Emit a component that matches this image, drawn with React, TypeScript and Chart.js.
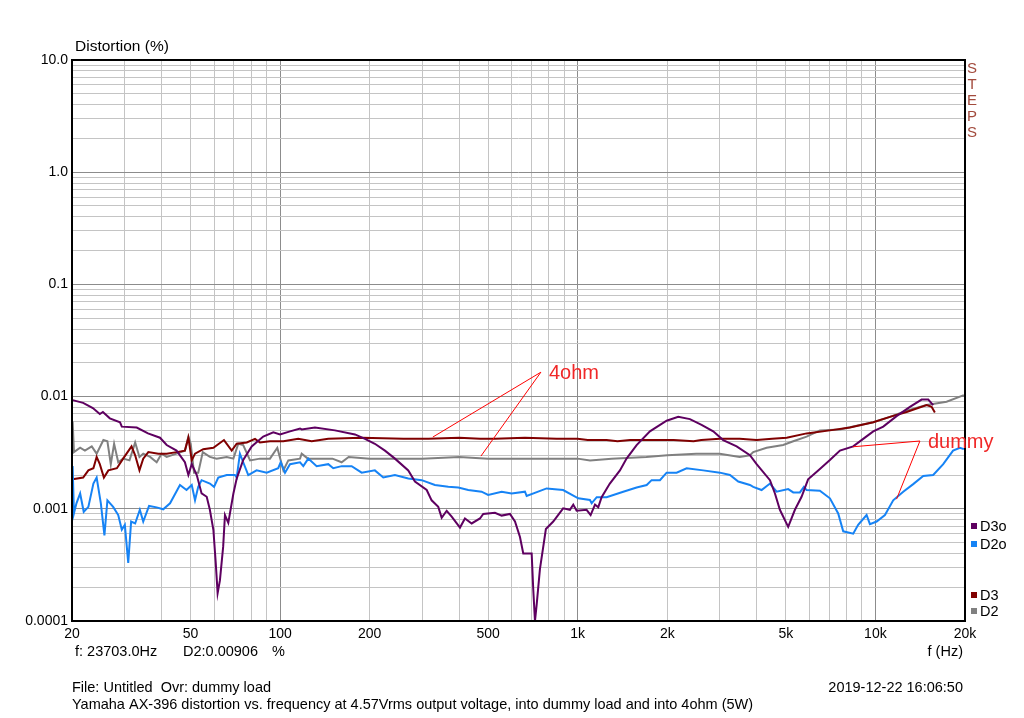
import React, { useEffect, useRef } from 'react';
import { Chart, registerables } from 'chart.js';

Chart.register(...registerables);

// ---------- data (frequency Hz, distortion %) ----------
const D3O_POINTS: [number, number][] = [
  [20.1, 0.0093], [21.8, 0.0088], [23.5, 0.0079], [24.8, 0.0070], [25.4, 0.0073], [26.8, 0.0064],
  [29.0, 0.0059], [29.4, 0.0054], [33.0, 0.0053], [36.0, 0.0047], [39.5, 0.0043], [41.6, 0.0037],
  [44.9, 0.0033], [47.9, 0.0026], [49.2, 0.0020], [50.5, 0.0025], [52.5, 0.0020], [54.5, 0.00137],
  [56.7, 0.00128], [58.1, 0.00098], [59.7, 0.00065], [60.8, 0.00033], [61.7, 0.000177], [62.8, 0.00023],
  [64.4, 0.00046], [65.3, 0.00088], [67.0, 0.00075], [69.7, 0.00137], [71.5, 0.00186], [75.2, 0.00272],
  [80.3, 0.0036], [87.8, 0.0044], [94.9, 0.0048], [100, 0.0046], [108, 0.0049], [116.7, 0.0052],
  [118.2, 0.0051], [131, 0.0053], [152.9, 0.0050], [178.5, 0.0046], [192.9, 0.0042], [208.2, 0.0038],
  [225.1, 0.0033], [243.2, 0.0028], [269.6, 0.0022], [283.9, 0.00175], [310.9, 0.00147], [323, 0.00119],
  [340, 0.00104], [349.1, 0.00083], [362.9, 0.00096], [377.2, 0.00085], [402.2, 0.00068], [417.9, 0.00082],
  [440.3, 0.00074], [469.4, 0.00082], [481.5, 0.0009], [527.1, 0.00092], [555.2, 0.00087], [592, 0.0009],
  [615.5, 0.00077], [639.7, 0.00056], [656.2, 0.0004], [700.3, 0.0004], [709, 0.00019], [718.4, 0.0001],
  [727.9, 0.00014], [746.5, 0.00029], [781.7, 0.00066], [827.4, 0.00077], [893.3, 0.00101], [941.4, 0.00098],
  [966, 0.00109], [991.6, 0.00096], [1071, 0.00098], [1105, 0.00088], [1143, 0.00109], [1172, 0.00103],
  [1203, 0.00127], [1282, 0.00168], [1386, 0.0022], [1459, 0.0028], [1577, 0.0037], [1748, 0.0049],
  [1989, 0.0061], [2176, 0.0066], [2382, 0.0063], [2606, 0.0056], [2852, 0.0049], [3081, 0.0041],
  [3419, 0.0036], [3789, 0.0030], [3990, 0.0025], [4424, 0.0018], [4598, 0.00137], [4777, 0.00098],
  [5094, 0.00069], [5366, 0.00098], [5649, 0.00128], [5942, 0.00183], [6425, 0.0022], [7034, 0.00272],
  [7602, 0.0033], [8423, 0.0036], [9100, 0.0042], [9836, 0.0049], [10627, 0.0054], [11780, 0.0067],
  [13062, 0.0081], [14299, 0.0094], [15049, 0.0094], [15638, 0.0084],
];

const D2O_POINTS: [number, number][] = [
  [20.1, 0.0024], [20.3, 0.00091], [20.7, 0.00112], [21.3, 0.00137], [21.9, 0.00094], [22.7, 0.00104],
  [23.6, 0.00168], [24.2, 0.0019], [25.0, 0.00112], [25.7, 0.00058], [26.3, 0.00119], [27.5, 0.00104],
  [28.6, 0.00088], [29.4, 0.00065], [30.1, 0.00072], [30.9, 0.00033], [31.6, 0.00077], [32.6, 0.00074],
  [33.8, 0.00098], [34.7, 0.00077], [36.3, 0.00106], [38.5, 0.00103], [40.5, 0.00099], [42.7, 0.00112],
  [46.1, 0.00163], [48.5, 0.00147], [50.5, 0.00163], [51.8, 0.00119], [53.1, 0.00157], [54.5, 0.0018],
  [58.1, 0.00168], [60.0, 0.00157], [62.0, 0.0019], [66.2, 0.0020], [70.5, 0.0020], [71.5, 0.0019],
  [73.3, 0.0031], [75.2, 0.0026], [78.2, 0.0020], [83.4, 0.0022], [90.2, 0.0021], [98.6, 0.0023],
  [100.5, 0.0026], [103.9, 0.0021], [108, 0.0025], [116.7, 0.0026], [119.7, 0.0024], [124.4, 0.0028],
  [132.7, 0.0024], [145.2, 0.0025], [150.9, 0.0023], [161.1, 0.0024], [174, 0.0024], [188, 0.0021],
  [208.2, 0.0022], [222.2, 0.0019], [243.2, 0.0020], [269.6, 0.00186], [299.1, 0.0018], [331.3, 0.00163],
  [367.4, 0.00157], [396.9, 0.00155], [428.7, 0.00147], [475.3, 0.00142], [500.1, 0.00133], [555.2, 0.00142],
  [599.8, 0.00137], [664.9, 0.00142], [673.7, 0.0013], [786.2, 0.00152], [893.3, 0.00147], [1004, 0.00124],
  [1099, 0.0012], [1114, 0.00112], [1158, 0.00127], [1250, 0.00127], [1422, 0.00142], [1577, 0.00155],
  [1705, 0.00163], [1771, 0.0018], [1889, 0.0018], [1989, 0.0021], [2149, 0.0021], [2322, 0.0023],
  [2640, 0.0022], [3004, 0.0021], [3246, 0.0020], [3462, 0.00175], [3789, 0.00163], [3887, 0.00157],
  [4147, 0.00147], [4424, 0.00168], [4657, 0.00142], [5094, 0.0015], [5297, 0.0014], [5576, 0.0014],
  [5752, 0.00157], [5874, 0.00147], [6509, 0.00145], [7034, 0.00124], [7500, 0.00091], [7796, 0.00063],
  [8423, 0.0006], [8752, 0.00072], [9342, 0.00088], [9584, 0.00073], [10097, 0.00077], [10766, 0.00088],
  [11477, 0.00119], [12404, 0.00142], [13398, 0.00166], [14478, 0.00196], [15638, 0.0020], [16900, 0.0025],
  [18237, 0.0033], [19220, 0.0035], [19830, 0.0034],
];

const D3_POINTS: [number, number][] = [
  [20.1, 0.00183], [21.8, 0.0019], [22.7, 0.0022], [23.6, 0.0023], [24.2, 0.0029], [24.8, 0.0025],
  [25.6, 0.0019], [26.5, 0.0022], [28.3, 0.0023], [29.7, 0.0028], [31.7, 0.0036], [32.6, 0.0030],
  [33.7, 0.0022], [34.7, 0.0028], [36.1, 0.0032], [39.0, 0.0031], [41.6, 0.0031], [44.9, 0.0032],
  [47.9, 0.0033], [49.2, 0.0043], [50.5, 0.0027], [51.8, 0.0031], [55.2, 0.0034], [59.7, 0.0035],
  [64.8, 0.0041], [68.8, 0.0033], [71.5, 0.0038], [77.3, 0.0039], [82.4, 0.0042], [85.6, 0.0039],
  [92.5, 0.0040], [102.6, 0.0040], [115.1, 0.0042], [127.7, 0.0040], [145.2, 0.0042], [188, 0.0043],
  [260, 0.0042], [315, 0.0042], [400, 0.0043], [470, 0.0042], [527, 0.0042], [665, 0.0043],
  [850, 0.0042], [1000, 0.0042], [1080, 0.0041], [1250, 0.0041], [1360, 0.0040], [1500, 0.0041],
  [1750, 0.0041], [2100, 0.0041], [2450, 0.0040], [2600, 0.0041], [3000, 0.0042], [3500, 0.0042],
  [3990, 0.0041], [4500, 0.0042], [5033, 0.0043], [5874, 0.0047], [7034, 0.0050], [8210, 0.0053],
  [9836, 0.0059], [11190, 0.0066], [12731, 0.0073], [14859, 0.0084], [15445, 0.0081], [15843, 0.0072],
];

const D2_POINTS: [number, number][] = [
  [20.1, 0.0060], [20.3, 0.0032], [21.3, 0.0035], [22.1, 0.0033], [23.3, 0.0036], [24.2, 0.0031],
  [25.5, 0.0041], [26.3, 0.0040], [27.0, 0.0025], [27.7, 0.0038], [28.6, 0.0026], [29.7, 0.0028],
  [31.2, 0.0027], [32.6, 0.0039], [33.7, 0.0029], [34.7, 0.0031], [36.6, 0.0029], [38.5, 0.0026],
  [40.0, 0.0031], [41.6, 0.0029], [44.9, 0.0031], [47.9, 0.0033], [49.2, 0.0044], [50.1, 0.0038],
  [51.4, 0.0021], [53.1, 0.0021], [55.0, 0.0032], [58.1, 0.0029], [61.2, 0.0028], [66.2, 0.0029],
  [69.7, 0.0028], [72.4, 0.0038], [75.2, 0.0037], [79.3, 0.0027], [85.6, 0.0028], [92.5, 0.0028],
  [97.9, 0.0035], [102.6, 0.0022], [106.6, 0.0027], [116.7, 0.0028], [118.2, 0.0031], [124, 0.0028],
  [150, 0.0028], [161, 0.0026], [170, 0.0029], [200, 0.0028], [300, 0.0028], [400, 0.0029],
  [500, 0.0028], [700, 0.0028], [1000, 0.0028], [1100, 0.0027], [1300, 0.0028], [1700, 0.0029],
  [2000, 0.0030], [2500, 0.0031], [3000, 0.0031], [3500, 0.0029], [3789, 0.0030], [3887, 0.0032],
  [4311, 0.0035], [4900, 0.0037], [5297, 0.0040], [5874, 0.0044], [6509, 0.0050], [7602, 0.0051],
  [8651, 0.0055], [9836, 0.0059], [11190, 0.0066], [12731, 0.0075], [14859, 0.0084], [17340, 0.0090],
  [19830, 0.0103],
];

const SERIES_NAMES = ['D3o', 'D2o', 'D3', 'D2'];
const SERIES_COLORS = ['#5e0060', '#1683f5', '#800000', '#808080'];

// ---------- axes ----------
const X_MIN = 20;
const X_MAX = 20000;
const Y_MIN = 0.0001;
const Y_MAX = 10;
const X_LABEL_VALUES = [20, 50, 100, 200, 500, 1000, 2000, 5000, 10000, 20000];
const X_LABEL_TEXTS = ['20', '50', '100', '200', '500', '1k', '2k', '5k', '10k', '20k'];
const Y_LABEL_VALUES = [0.0001, 0.001, 0.01, 0.1, 1, 10];
const Y_LABEL_TEXTS = ['0.0001', '0.001', '0.01', '0.1', '1.0', '10.0'];

// ---------- texts ----------
const Y_TITLE = 'Distortion (%)';
const X_TITLE = 'f (Hz)';
const CURSOR_F = 'f: 23703.0Hz';
const CURSOR_D = 'D2:0.00906';
const CURSOR_UNIT = '%';
const FILE_LINE = 'File: Untitled  Ovr: dummy load';
const DATE_LINE = '2019-12-22 16:06:50';
const CAPTION = 'Yamaha AX-396 distortion vs. frequency at 4.57Vrms output voltage, into dummy load and into 4ohm (5W)';
const SIDE_LABEL = 'STEPS';

// annotations in data space: [anchor, targets]
const NOTE_4OHM = { text: '4ohm', anchor: [752, 0.0165], targets: [[326, 0.00436], [473, 0.00295]] };
const NOTE_DUMMY = { text: 'dummy', anchor: [14112, 0.00402], targets: [[8404, 0.00357], [11780, 0.00122]] };

const FONT = '"Liberation Sans", Arial, sans-serif';

function gridValues(min: number, max: number): number[] {
  const out: number[] = [];
  for (let e = Math.floor(Math.log10(min)); e <= Math.ceil(Math.log10(max)); e++) {
    for (let m = 1; m <= 9; m++) {
      const v = parseFloat((m * Math.pow(10, e)).toPrecision(6));
      if (v >= min * 0.9999 && v <= max * 1.0001) out.push(v);
    }
  }
  return out;
}

function isDecade(v: number): boolean {
  const l = Math.log10(v);
  return Math.abs(l - Math.round(l)) < 1e-6;
}

function labelFor(values: number[], texts: string[], v: number): string {
  const i = values.findIndex((t) => Math.abs(t - v) / t < 1e-6);
  return i >= 0 ? texts[i] : '';
}

const overlayPlugin = {
  id: 'overlay',
  afterDraw(chart: any) {
    const { ctx, chartArea: a, scales } = chart;
    const xs = scales.x;
    const ys = scales.y;
    ctx.save();

    // frame
    ctx.strokeStyle = '#000';
    ctx.lineWidth = 2;
    ctx.strokeRect(a.left, a.top, a.right - a.left, a.bottom - a.top);

    // annotations
    const drawNote = (note: any, fontSize: number) => {
      const ax = xs.getPixelForValue(note.anchor[0]);
      const ay = ys.getPixelForValue(note.anchor[1]);
      ctx.strokeStyle = '#ff0000';
      ctx.lineWidth = 1;
      note.targets.forEach((t: number[]) => {
        ctx.beginPath();
        ctx.moveTo(ax, ay);
        ctx.lineTo(xs.getPixelForValue(t[0]), ys.getPixelForValue(t[1]));
        ctx.stroke();
      });
      ctx.fillStyle = '#f02828';
      ctx.font = `${fontSize}px ${FONT}`;
      ctx.textAlign = 'left';
      ctx.textBaseline = 'middle';
      ctx.fillText(note.text, ax + 8, ay + 1);
    };
    drawNote(NOTE_4OHM, 20);
    drawNote(NOTE_DUMMY, 20);

    // texts
    ctx.fillStyle = '#000';
    ctx.font = `15.5px ${FONT}`;
    ctx.textAlign = 'left';
    ctx.textBaseline = 'middle';
    ctx.fillText(Y_TITLE, a.left + 3, a.top - 13);

    ctx.font = `14.5px ${FONT}`;
    ctx.fillText(CURSOR_F, a.left + 3, a.bottom + 31);
    ctx.fillText(CURSOR_D, a.left + 111, a.bottom + 31);
    ctx.fillText(CURSOR_UNIT, a.left + 200, a.bottom + 31);
    ctx.fillText(FILE_LINE, a.left, a.bottom + 67);
    ctx.fillText(CAPTION, a.left, a.bottom + 84);
    ctx.textAlign = 'right';
    ctx.fillText(X_TITLE, a.right - 2, a.bottom + 31);
    ctx.fillText(DATE_LINE, a.right - 2, a.bottom + 67);

    // side label
    ctx.fillStyle = '#a24a3c';
    ctx.textAlign = 'center';
    ctx.font = `15px ${FONT}`;
    SIDE_LABEL.split('').forEach((ch, i) => {
      ctx.fillText(ch, a.right + 7, a.top + 9 + i * 16);
    });

    // legend
    ctx.font = `14.5px ${FONT}`;
    const legendY = [526, 544, 595, 611];
    SERIES_NAMES.forEach((name, i) => {
      const y = legendY[i];
      ctx.fillStyle = SERIES_COLORS[i];
      ctx.fillRect(a.right + 6, y - 3, 6, 6);
      ctx.fillStyle = '#000';
      ctx.textAlign = 'left';
      ctx.fillText(name, a.right + 15, y + 1);
    });

    ctx.restore();
  },
};

export default function App() {
  const canvasRef = useRef<HTMLCanvasElement | null>(null);

  useEffect(() => {
    if (!canvasRef.current) return;
    const xGrid = gridValues(X_MIN, X_MAX);
    const yGrid = gridValues(Y_MIN, Y_MAX);
    const allPoints = [D3O_POINTS, D2O_POINTS, D3_POINTS, D2_POINTS];

    const chart = new Chart(canvasRef.current, {
      type: 'line',
      data: {
        datasets: SERIES_NAMES.map((name, i) => ({
          label: name,
          data: allPoints[i].map(([x, y]) => ({ x, y })),
          borderColor: SERIES_COLORS[i],
          backgroundColor: SERIES_COLORS[i],
          borderWidth: 2,
          pointRadius: 0,
          tension: 0,
          fill: false,
        })),
      },
      options: {
        animation: false,
        responsive: true,
        maintainAspectRatio: false,
        layout: { padding: { left: 0, top: 60, right: 59, bottom: 0 } },
        plugins: { legend: { display: false }, tooltip: { enabled: false } },
        scales: {
          x: {
            type: 'logarithmic',
            min: X_MIN,
            max: X_MAX,
            border: { display: false },
            grid: {
              drawTicks: false,
              color: (c: any) => (c.tick && isDecade(c.tick.value) ? '#8c8c8c' : '#c4c4c4'),
              lineWidth: 1,
            },
            afterBuildTicks: (scale: any) => {
              scale.ticks = xGrid.map((v) => ({ value: v }));
            },
            afterFit: (scale: any) => {
              scale.height = 97;
              scale.paddingLeft = 0;
              scale.paddingRight = 0;
            },
            ticks: {
              autoSkip: false,
              maxRotation: 0,
              minRotation: 0,
              padding: 5,
              color: '#000',
              font: { family: FONT, size: 14 },
              callback: (v: any) => labelFor(X_LABEL_VALUES, X_LABEL_TEXTS, Number(v)),
            },
          },
          y: {
            type: 'logarithmic',
            min: Y_MIN,
            max: Y_MAX,
            border: { display: false },
            grid: {
              drawTicks: false,
              color: (c: any) => (c.tick && isDecade(c.tick.value) ? '#8c8c8c' : '#c4c4c4'),
              lineWidth: 1,
            },
            afterBuildTicks: (scale: any) => {
              scale.ticks = yGrid.map((v) => ({ value: v }));
            },
            afterFit: (scale: any) => {
              scale.width = 72;
              scale.paddingTop = 0;
              scale.paddingBottom = 0;
            },
            ticks: {
              autoSkip: false,
              padding: 4,
              color: '#000',
              font: { family: FONT, size: 14 },
              callback: (v: any) => labelFor(Y_LABEL_VALUES, Y_LABEL_TEXTS, Number(v)),
            },
          },
        },
      },
      plugins: [overlayPlugin],
    });

    return () => chart.destroy();
  }, []);

  return (
    <div style={{ position: 'fixed', left: 0, top: 0, width: 1024, height: 718, background: '#fff' }}>
      <canvas ref={canvasRef} />
    </div>
  );
}
